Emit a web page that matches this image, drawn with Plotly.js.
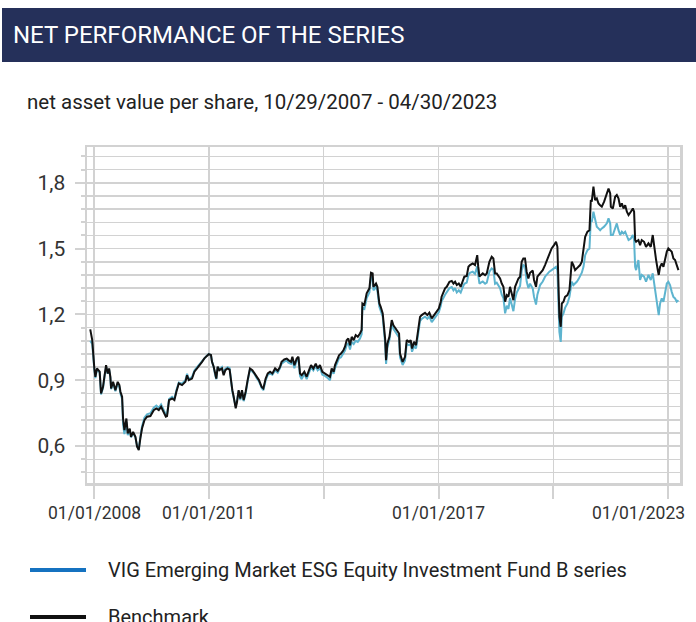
<!DOCTYPE html>
<html>
<head>
<meta charset="utf-8">
<script src="https://cdn.plot.ly/plotly-3.0.1.min.js"></script>
<style>
  html, body { margin: 0; padding: 0; background: #ffffff; }
  #chart { width: 696px; height: 622px; }
</style>
</head>
<body>
<div id="chart"></div>
<script>
// ---- data ----
const dates = [
"2007-11-26","2007-12-15","2008-01-04","2008-01-14","2008-01-29","2008-02-24","2008-03-08","2008-03-27","2008-04-09","2008-04-25",
"2008-05-11","2008-05-24","2008-06-05","2008-06-12","2008-07-01","2008-07-23","2008-08-14","2008-08-30","2008-09-09","2008-09-25",
"2008-10-04","2008-10-17","2008-11-05","2008-11-18","2008-12-07","2008-12-19","2009-01-08","2009-01-30","2009-02-15","2009-03-03",
"2009-03-18","2009-04-03","2009-04-26","2009-05-21","2009-06-22","2009-07-24","2009-08-18","2009-09-10","2009-10-02","2009-10-28",
"2009-11-16","2009-11-28","2009-12-17","2010-01-15","2010-02-06","2010-02-25","2010-03-20","2010-04-20","2010-05-22","2010-06-07",
"2010-06-23","2010-07-24","2010-08-16","2010-09-10","2010-10-06","2010-10-28","2010-11-19","2010-12-08","2010-12-31","2011-01-21",
"2011-01-31","2011-02-16","2011-03-04","2011-03-13","2011-03-26","2011-04-11","2011-05-06","2011-05-22","2011-06-07","2011-06-29",
"2011-07-18","2011-07-31","2011-08-13","2011-08-26","2011-09-14","2011-09-27","2011-10-12","2011-10-28","2011-11-13","2011-11-29",
"2011-12-18","2012-01-06","2012-01-28","2012-02-20","2012-03-10","2012-04-01","2012-04-23","2012-05-19","2012-06-04","2012-06-26",
"2012-07-16","2012-08-07","2012-08-29","2012-09-24","2012-10-19","2012-11-10","2012-11-25","2012-12-21","2013-01-13","2013-01-29",
"2013-02-23","2013-03-08","2013-03-27","2013-04-18","2013-05-05","2013-05-20","2013-06-05","2013-06-30","2013-07-22","2013-08-14",
"2013-09-02","2013-09-24","2013-10-17","2013-11-04","2013-11-26","2013-12-19","2014-01-14","2014-02-08","2014-03-02","2014-03-18",
"2014-04-06","2014-04-19","2014-05-08","2014-05-27","2014-06-15","2014-07-08","2014-07-23","2014-08-08","2014-08-24","2014-09-09",
"2014-09-25","2014-10-14","2014-11-02","2014-11-22","2014-12-13","2014-12-29","2015-01-05","2015-01-24","2015-02-15","2015-03-13",
"2015-03-28","2015-04-13","2015-04-20","2015-05-15","2015-05-28","2015-06-16","2015-06-29","2015-07-18","2015-07-31","2015-08-10",
"2015-08-19","2015-09-01","2015-09-20","2015-10-12","2015-10-28","2015-11-29","2015-12-21","2015-12-30","2016-01-24","2016-02-16",
"2016-03-03","2016-03-25","2016-04-10","2016-04-23","2016-05-12","2016-05-31","2016-06-16","2016-07-08","2016-07-24","2016-08-25",
"2016-09-16","2016-10-05","2016-10-28","2016-11-19","2016-12-14","2017-01-03","2017-01-22","2017-01-30","2017-03-04","2017-03-20",
"2017-04-15","2017-05-07","2017-05-23","2017-06-08","2017-06-24","2017-07-13","2017-07-31","2017-08-20","2017-09-04","2017-09-27",
"2017-10-13","2017-10-28","2017-11-23","2017-12-15","2018-01-05","2018-01-14","2018-01-26","2018-02-08","2018-02-27","2018-03-21",
"2018-04-06","2018-05-01","2018-05-23","2018-06-08","2018-06-24","2018-07-10","2018-07-26","2018-08-11","2018-08-27","2018-09-12",
"2018-09-28","2018-10-14","2018-10-30","2018-11-14","2018-11-30","2018-12-16","2019-01-01","2019-01-17","2019-02-02","2019-02-18",
"2019-03-05","2019-03-21","2019-04-06","2019-04-22","2019-05-08","2019-05-24","2019-06-19","2019-07-01","2019-07-20","2019-08-02",
"2019-08-28","2019-09-22","2019-10-14","2019-11-05","2019-11-24","2019-12-16","2020-01-08","2020-01-27","2020-02-09","2020-02-18",
"2020-02-28","2020-03-12","2020-03-22","2020-04-07","2020-04-22","2020-05-15","2020-06-03","2020-06-16","2020-06-25","2020-07-11",
"2020-07-27","2020-08-12","2020-08-28","2020-09-13","2020-09-29","2020-10-15","2020-10-31","2020-11-22","2020-12-11","2020-12-24",
"2021-01-02","2021-01-18","2021-02-03","2021-02-19","2021-03-07","2021-03-23","2021-04-08","2021-04-30","2021-05-26","2021-06-11",
"2021-06-27","2021-07-03","2021-07-22","2021-08-13","2021-08-29","2021-09-14","2021-09-30","2021-10-16","2021-11-01","2021-11-17",
"2021-12-03","2021-12-19","2022-01-10","2022-01-29","2022-02-10","2022-02-20","2022-03-01","2022-03-23","2022-04-08","2022-04-24",
"2022-05-16","2022-06-04","2022-06-27","2022-07-19","2022-08-07","2022-08-20","2022-09-08","2022-09-24","2022-10-03","2022-10-16",
"2022-11-01","2022-11-17","2022-12-03","2022-12-19","2023-01-03","2023-01-19","2023-02-04","2023-02-20","2023-03-08","2023-03-24",
"2023-04-09"
];

const fundNav = [
1.080,1.065,0.950,0.910,0.950,0.935,0.835,0.865,0.912,0.962,
0.930,0.950,0.910,0.860,0.885,0.850,0.885,0.870,0.840,0.815,
0.700,0.655,0.710,0.650,0.675,0.640,0.660,0.640,0.600,0.585,
0.640,0.690,0.730,0.745,0.750,0.775,0.785,0.775,0.790,0.765,
0.745,0.745,0.815,0.825,0.815,0.855,0.890,0.885,0.900,0.930,
0.905,0.915,0.945,0.960,0.975,0.990,1.003,1.010,1.020,1.015,
0.985,0.960,0.920,0.905,0.960,0.950,0.960,0.930,0.952,0.960,
0.955,0.890,0.850,0.820,0.780,0.810,0.850,0.810,0.850,0.805,
0.840,0.895,0.950,0.940,0.930,0.910,0.895,0.865,0.855,0.900,
0.925,0.930,0.925,0.945,0.935,0.955,0.975,0.985,0.990,0.980,
0.975,0.995,0.955,0.990,0.995,0.920,0.905,0.930,0.905,0.935,
0.960,0.945,0.965,0.945,0.955,0.925,0.920,0.910,0.900,0.945,
0.930,0.955,0.975,1.000,1.005,1.020,1.035,1.060,1.070,1.040,
1.075,1.065,1.080,1.075,1.090,1.110,1.230,1.225,1.275,1.300,
1.370,1.365,1.310,1.325,1.310,1.235,1.215,1.190,1.120,1.070,
0.975,1.050,1.085,1.160,1.135,1.110,1.095,1.005,0.970,0.990,
1.065,1.060,1.065,1.030,1.055,1.045,1.095,1.170,1.180,1.190,
1.180,1.190,1.165,1.180,1.195,1.210,1.240,1.260,1.290,1.300,
1.320,1.325,1.310,1.320,1.300,1.310,1.300,1.325,1.340,1.345,
1.380,1.390,1.395,1.385,1.420,1.380,1.340,1.345,1.350,1.340,
1.345,1.395,1.410,1.405,1.340,1.345,1.330,1.320,1.290,1.275,
1.205,1.240,1.225,1.275,1.245,1.215,1.270,1.300,1.315,1.330,
1.400,1.425,1.420,1.350,1.320,1.340,1.318,1.280,1.245,1.290,
1.334,1.350,1.372,1.385,1.395,1.402,1.410,1.417,1.402,1.250,
1.120,1.075,1.189,1.205,1.230,1.250,1.280,1.320,1.349,1.334,
1.340,1.349,1.360,1.372,1.390,1.417,1.470,1.493,1.500,1.630,
1.622,1.668,1.630,1.600,1.592,1.584,1.592,1.600,1.615,1.638,
1.615,1.562,1.562,1.600,1.615,1.584,1.562,1.577,1.569,1.577,
1.554,1.539,1.546,1.562,1.539,1.417,1.402,1.448,1.357,1.380,
1.372,1.349,1.380,1.357,1.387,1.341,1.288,1.220,1.197,1.250,
1.273,1.258,1.296,1.341,1.349,1.334,1.303,1.280,1.273,1.258,
1.265
];

const benchmarkNav = [
1.132,1.083,0.954,0.916,0.954,0.939,0.840,0.870,0.916,0.969,
0.931,0.954,0.916,0.863,0.893,0.855,0.893,0.878,0.848,0.825,
0.726,0.673,0.726,0.658,0.680,0.642,0.665,0.642,0.597,0.582,
0.635,0.680,0.718,0.734,0.737,0.764,0.772,0.764,0.779,0.756,
0.734,0.737,0.810,0.817,0.810,0.848,0.886,0.878,0.893,0.923,
0.901,0.908,0.939,0.954,0.969,0.984,1.000,1.007,1.019,1.015,
0.984,0.962,0.923,0.908,0.962,0.946,0.954,0.923,0.946,0.954,
0.949,0.893,0.855,0.825,0.772,0.802,0.855,0.817,0.855,0.810,
0.848,0.901,0.954,0.946,0.934,0.916,0.901,0.870,0.863,0.908,
0.931,0.939,0.931,0.954,0.943,0.961,0.984,0.995,0.999,0.992,
0.984,1.007,0.969,0.999,1.007,0.931,0.923,0.939,0.916,0.946,
0.969,0.954,0.976,0.954,0.969,0.939,0.931,0.923,0.916,0.954,
0.939,0.969,0.992,1.014,1.022,1.037,1.053,1.083,1.091,1.060,
1.098,1.083,1.106,1.098,1.113,1.129,1.250,1.245,1.296,1.319,
1.390,1.387,1.326,1.341,1.326,1.250,1.235,1.205,1.140,1.090,
0.992,1.068,1.098,1.174,1.151,1.129,1.113,1.022,0.984,1.007,
1.083,1.075,1.083,1.045,1.075,1.060,1.113,1.189,1.197,1.208,
1.197,1.208,1.182,1.197,1.212,1.227,1.258,1.281,1.319,1.326,
1.349,1.353,1.341,1.349,1.334,1.341,1.326,1.356,1.372,1.375,
1.417,1.425,1.432,1.425,1.470,1.420,1.372,1.379,1.387,1.379,
1.387,1.440,1.463,1.455,1.387,1.387,1.372,1.364,1.341,1.326,
1.258,1.288,1.281,1.326,1.296,1.265,1.326,1.349,1.364,1.372,
1.440,1.455,1.455,1.394,1.364,1.390,1.400,1.357,1.326,1.372,
1.387,1.402,1.425,1.455,1.478,1.501,1.516,1.531,1.508,1.357,
1.189,1.144,1.250,1.258,1.280,1.288,1.311,1.387,1.440,1.425,
1.402,1.410,1.417,1.425,1.440,1.493,1.554,1.577,1.584,1.721,
1.714,1.782,1.721,1.729,1.706,1.698,1.691,1.714,1.759,1.774,
1.751,1.691,1.683,1.736,1.744,1.729,1.691,1.706,1.683,1.698,
1.668,1.653,1.668,1.683,1.668,1.539,1.531,1.539,1.516,1.539,
1.531,1.508,1.524,1.508,1.562,1.508,1.448,1.402,1.380,1.417,
1.432,1.417,1.455,1.486,1.501,1.493,1.486,1.455,1.448,1.425,
1.402
];

const seriesNames = ["VIG Emerging Market ESG Equity Investment Fund B series", "Benchmark"];
const xTickVals = ["2008-01-01","2011-01-01","2014-01-01","2017-01-01","2020-01-01","2023-01-01"];
const xTickText = ["01/01/2008","01/01/2011","","01/01/2017","","01/01/2023"];
const yTickVals = [0.6, 0.9, 1.2, 1.5, 1.8];
const headerText = "NET PERFORMANCE OF THE SERIES";
const subtitleText = "net asset value per share, 10/29/2007 - 04/30/2023";

// ---- drawing ----
const FONT = "Roboto, 'Open Sans', sans-serif";
const GRID = "#d2d2d2";
const fundColor = "#5db4cf";
const fundLegendColor = "#1572c0";
const benchColor = "#111111";

const traces = [
  { x: dates, y: fundNav, type: "scatter", mode: "lines", name: seriesNames[0],
    line: { color: fundColor, width: 2 }, showlegend: false, hoverinfo: "x+y" },
  { x: dates, y: benchmarkNav, type: "scatter", mode: "lines", name: seriesNames[1],
    line: { color: benchColor, width: 2 }, showlegend: false, hoverinfo: "x+y" }
];

// pixel helpers -> paper coords (plot area: x 87..680, y 147..483)
const PL = 87, PR = 680, PT = 147, PB = 483;
const px = v => (v - PL) / (PR - PL);
const py = v => (PB - v) / (PB - PT);

// x tick labels as annotations (the last one is kept inside the figure, as in the reference)
const xLabelAnnotations = xTickVals.map((v, i) => {
  if (!xTickText[i]) return null;
  const last = i === xTickVals.length - 1;
  return {
    text: xTickText[i], showarrow: false,
    xref: last ? "paper" : "x", x: last ? px(687) : v,
    xanchor: last ? "right" : "center",
    yref: "paper", y: py(513), yanchor: "middle",
    font: { family: FONT, size: 17.5, color: "#333333" }
  };
}).filter(Boolean);

const layout = {
  width: 696, height: 622,
  margin: { l: PL, r: 696 - PR, t: PT, b: 622 - PB, pad: 0 },
  paper_bgcolor: "#ffffff", plot_bgcolor: "#ffffff",
  separators: ",.",
  font: { family: FONT, color: "#333333", size: 18 },
  showlegend: false,
  xaxis: {
    type: "date",
    range: ["2007-10-26", "2023-04-24"],
    tickmode: "array", tickvals: xTickVals, ticktext: xTickText,
    showticklabels: false,
    ticks: "outside", ticklen: 13, tickwidth: 2, tickcolor: GRID,
    showgrid: true, gridcolor: GRID, gridwidth: 1.5,
    showline: true, mirror: true, linecolor: GRID, linewidth: 2.5,
    zeroline: false
  },
  yaxis: {
    range: [0.432, 1.963],
    tickmode: "array", tickvals: yTickVals, tickformat: ".1f",
    ticks: "outside", ticklen: 10, tickwidth: 2, tickcolor: GRID,
    showgrid: true, gridcolor: GRID, gridwidth: 1.5,
    minor: { dtick: 0.06, tick0: 0, showgrid: true, gridcolor: GRID, gridwidth: 1.5,
             ticks: "outside", ticklen: 4, tickwidth: 2, tickcolor: GRID },
    showline: true, mirror: true, linecolor: GRID, linewidth: 2.5,
    zeroline: false,
    tickfont: { family: FONT, size: 21, color: "#333333" },
    ticklabelstandoff: 5
  },
  shapes: [
    { type: "rect", xref: "paper", yref: "paper", layer: "above",
      x0: px(2), x1: px(696), y0: py(62), y1: py(8),
      fillcolor: "#25305a", line: { width: 0 } },
    { type: "line", xref: "paper", yref: "paper",
      x0: px(30), x1: px(86), y0: py(570), y1: py(570),
      line: { color: fundLegendColor, width: 4 } },
    { type: "line", xref: "paper", yref: "paper",
      x0: px(30), x1: px(86), y0: py(617), y1: py(617),
      line: { color: benchColor, width: 4 } }
  ],
  annotations: [
    { text: headerText, xref: "paper", yref: "paper", x: px(11), y: py(35),
      xanchor: "left", yanchor: "middle", showarrow: false,
      font: { family: FONT, size: 24, color: "#ffffff" } },
    { text: subtitleText, xref: "paper", yref: "paper", x: px(25), y: py(102),
      xanchor: "left", yanchor: "middle", showarrow: false,
      font: { family: FONT, size: 20.5, color: "#222222" } },
    { text: seriesNames[0], xref: "paper", yref: "paper", x: px(106), y: py(570),
      xanchor: "left", yanchor: "middle", showarrow: false,
      font: { family: FONT, size: 20, color: "#222222" } },
    { text: seriesNames[1], xref: "paper", yref: "paper", x: px(106), y: py(617),
      xanchor: "left", yanchor: "middle", showarrow: false,
      font: { family: FONT, size: 20, color: "#222222" } }
  ].concat(xLabelAnnotations)
};

Plotly.newPlot("chart", traces, layout, { displayModeBar: false, staticPlot: true });
</script>
</body>
</html>
